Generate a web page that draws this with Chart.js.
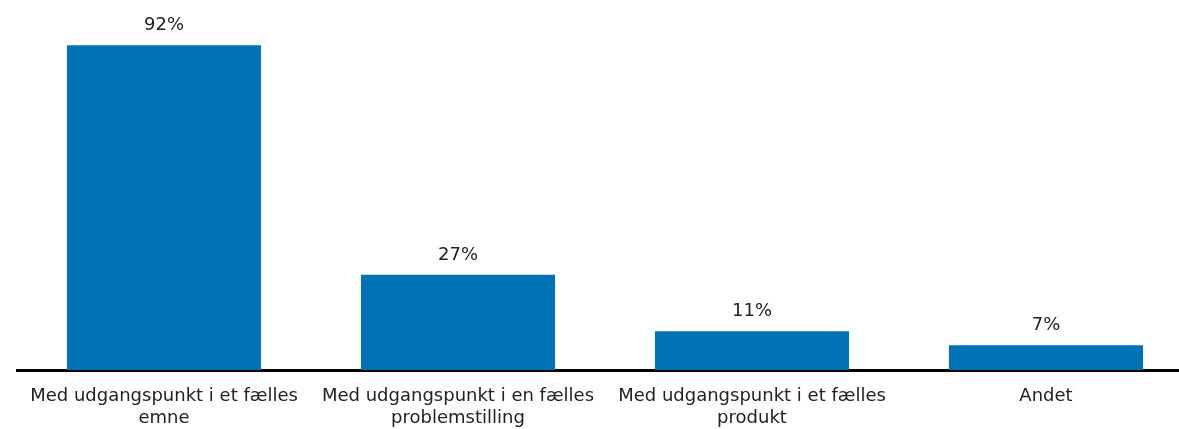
<!DOCTYPE html>
<html>
<head>
<meta charset="utf-8">
<script src="https://cdn.jsdelivr.net/npm/chart.js@4.4.0/dist/chart.umd.min.js"></script>
<style>
  html, body { margin: 0; padding: 0; background: #fff; overflow: hidden; }
  #wrap { width: 1210px; height: 429px; }
</style>
</head>
<body>
<div id="wrap"><canvas id="chart"></canvas></div>
<script>
const categories = [
    ["Med udgangspunkt i et fælles", "emne"],
    ["Med udgangspunkt i en fælles", "problemstilling"],
    ["Med udgangspunkt i et fælles", "produkt"],
    "Andet"
];
const shares = [92, 27, 11, 7];

// writes "xx%" above each bar
const barLabels = {
    id: 'barLabels',
    afterDatasetsDraw(chart) {
        const ctx = chart.ctx;
        const meta = chart.getDatasetMeta(0);
        ctx.save();
        ctx.font = '18px "DejaVu Sans"';
        ctx.fillStyle = '#222';
        ctx.textAlign = 'center';
        ctx.textBaseline = 'alphabetic';
        meta.data.forEach((bar, i) => {
            ctx.fillText(shares[i] + '%', bar.x, bar.y - 15);
        });
        ctx.restore();
    }
};

new Chart(document.getElementById('chart'), {
    type: 'bar',
    data: {
        labels: categories,
        datasets: [{
            data: shares,
            backgroundColor: '#0073B4',
            borderWidth: 0,
            barPercentage: 0.66,
            categoryPercentage: 1,
        }],
    },
    options: {
        responsive: true,
        maintainAspectRatio: false,
        animation: false,
        layout: { padding: { left: 17, right: 17, top: 17, bottom: 0 } },
        plugins: {
            legend: { display: false },
            tooltip: { enabled: false },
        },
        scales: {
            x: {
                grid: { display: false, drawTicks: false },
                border: { display: true, color: '#000', width: 3 },
                ticks: {
                    color: '#222',
                    padding: 15,
                    maxRotation: 0,
                    autoSkip: false,
                    font: { size: 18, family: 'DejaVu Sans', lineHeight: 1.25 },
                },
                afterFit(scale) { scale.height = 59; },
            },
            y: {
                display: false,
                min: 0,
                max: 100,
            },
        },
    },
    plugins: [barLabels],
});
</script>
</body>
</html>
